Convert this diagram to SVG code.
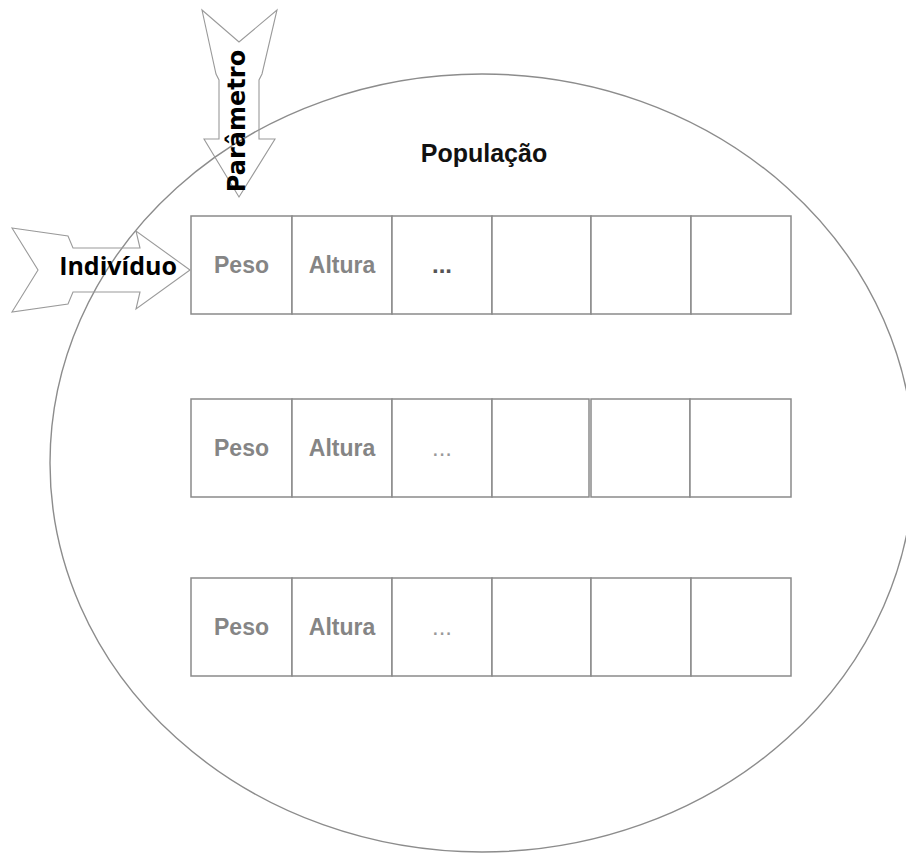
<svg xmlns="http://www.w3.org/2000/svg" width="906" height="854" viewBox="0 0 906 854">
<style>
.cell{fill:#ffffff;stroke:#8a8a8a;stroke-width:1.5}
.arrow{fill:none;stroke:#9a9a9a;stroke-width:1.1;stroke-linejoin:miter}
.lbl{font-family:"Liberation Sans",Arial,sans-serif;font-size:23px;font-weight:bold;fill:#858585;text-anchor:middle}
.dots1{font-family:"Liberation Sans",Arial,sans-serif;font-size:24px;font-weight:bold;fill:#555555;text-anchor:middle}
.dots{font-family:"Liberation Sans",Arial,sans-serif;font-size:24px;fill:#999999;text-anchor:middle}
</style>
<rect width="906" height="854" fill="#ffffff"/>
<g id="populacao">
<ellipse cx="482" cy="463" rx="432" ry="389" fill="none" stroke="#8c8c8c" stroke-width="1.4"/>
<text x="484" y="162" font-family="'Liberation Sans',Arial,sans-serif" font-size="25" font-weight="bold" fill="#111111" text-anchor="middle">População</text>
</g>
<g id="row1">
<rect class="cell" x="191" y="216" width="101" height="98"/>
<rect class="cell" x="292" y="216" width="100" height="98"/>
<rect class="cell" x="392" y="216" width="100" height="98"/>
<rect class="cell" x="492" y="216" width="99" height="98"/>
<rect class="cell" x="591" y="216" width="100" height="98"/>
<rect class="cell" x="691" y="216" width="100" height="98"/>
<text class="lbl" x="241.5" y="273">Peso</text>
<text class="lbl" x="342" y="273">Altura</text>
<text class="dots1" x="442" y="273">...</text>
</g>
<g id="row2">
<rect class="cell" x="191" y="399" width="101" height="98"/>
<rect class="cell" x="292" y="399" width="100" height="98"/>
<rect class="cell" x="392" y="399" width="100" height="98"/>
<rect class="cell" x="492" y="399" width="97" height="98"/>
<rect class="cell" x="591" y="399" width="99" height="98"/>
<rect class="cell" x="690" y="399" width="101" height="98"/>
<text class="lbl" x="241.5" y="456">Peso</text>
<text class="lbl" x="342" y="456">Altura</text>
<text class="dots" x="442" y="456">...</text>
</g>
<g id="row3">
<rect class="cell" x="191" y="578" width="101" height="98"/>
<rect class="cell" x="292" y="578" width="100" height="98"/>
<rect class="cell" x="392" y="578" width="100" height="98"/>
<rect class="cell" x="492" y="578" width="99" height="98"/>
<rect class="cell" x="591" y="578" width="100" height="98"/>
<rect class="cell" x="691" y="578" width="100" height="98"/>
<text class="lbl" x="241.5" y="635">Peso</text>
<text class="lbl" x="342" y="635">Altura</text>
<text class="dots" x="442" y="635">...</text>
</g>
<g id="connectors">
<g id="parametro">
<polygon class="arrow" points="202,10 239,42 277,10 262,74 259,80 259,139 275,139 239,197 204,139 219,139 219,80 216,74"/>
<text transform="translate(245,121) rotate(-90)" font-family="'DejaVu Sans',Verdana,sans-serif" font-size="24" font-weight="bold" fill="#000000" text-anchor="middle">Parâmetro</text>
</g>
<g id="individuo">
<polygon class="arrow" points="12,228 68,236 73,248 140,248 136,231 190,270 136,309 140,292 73,292 68,304 12,312 38,270"/>
<text x="118" y="275" font-family="'Open Sans','Liberation Sans',sans-serif" font-size="25" font-weight="bold" fill="#000000" text-anchor="middle">Indivíduo</text>
</g>
</g>
</svg>
